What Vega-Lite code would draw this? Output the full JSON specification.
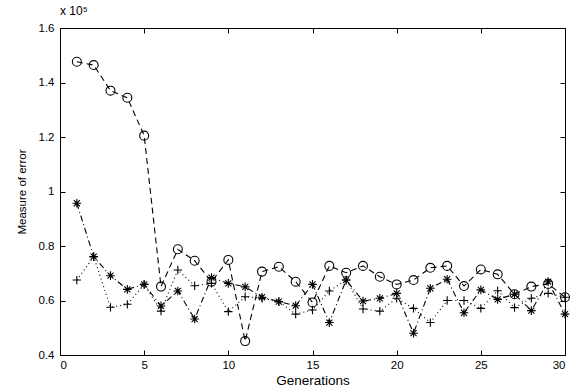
{
  "$schema": "https://vega.github.io/schema/vega-lite/v6.json",
  "autosize": {"type": "none"},
  "padding": {"left": 60, "top": 28, "right": 10, "bottom": 35},
  "width": 505,
  "height": 327,
  "background": "white",
  "config": {
    "view": {"stroke": "black", "strokeWidth": 1},
    "font": "Liberation Sans",
    "axis": {"grid": false, "domain": false, "tickColor": "black", "tickSize": -5, "labelColor": "black", "titleColor": "black", "labelFont": "Liberation Sans", "titleFont": "Liberation Sans", "titleFontWeight": "normal", "labelFontSize": 11.5, "titleFontSize": 11.5}
  },
  "title": {"text": "x 10⁵", "anchor": "start", "frame": "group", "fontSize": 12, "fontWeight": "normal", "font": "Liberation Sans", "offset": 4, "color": "black"},
  "datasets": {
    "raw": [
      {"gen":1,"circle":1.476,"star":0.957,"plus":0.675},
      {"gen":2,"circle":1.464,"star":0.761,"plus":0.761},
      {"gen":3,"circle":1.370,"star":0.691,"plus":0.575},
      {"gen":4,"circle":1.344,"star":0.641,"plus":0.586},
      {"gen":5,"circle":1.205,"star":0.659,"plus":0.659},
      {"gen":6,"circle":0.651,"star":0.580,"plus":0.561},
      {"gen":7,"circle":0.788,"star":0.635,"plus":0.712},
      {"gen":8,"circle":0.746,"star":0.532,"plus":0.654},
      {"gen":9,"circle":0.669,"star":0.684,"plus":0.663},
      {"gen":10,"circle":0.749,"star":0.663,"plus":0.559},
      {"gen":11,"circle":0.451,"star":0.650,"plus":0.614},
      {"gen":12,"circle":0.706,"star":0.612,"plus":0.608},
      {"gen":13,"circle":0.724,"star":0.596,"plus":0.596},
      {"gen":14,"circle":0.669,"star":0.581,"plus":0.550},
      {"gen":15,"circle":0.593,"star":0.659,"plus":0.565},
      {"gen":16,"circle":0.727,"star":0.519,"plus":0.635},
      {"gen":17,"circle":0.702,"star":0.675,"plus":0.675},
      {"gen":18,"circle":0.727,"star":0.598,"plus":0.569},
      {"gen":19,"circle":0.687,"star":0.608,"plus":0.561},
      {"gen":20,"circle":0.659,"star":0.626,"plus":0.608},
      {"gen":21,"circle":0.675,"star":0.480,"plus":0.571},
      {"gen":22,"circle":0.720,"star":0.645,"plus":0.519},
      {"gen":23,"circle":0.727,"star":0.678,"plus":0.600},
      {"gen":24,"circle":0.653,"star":0.555,"plus":0.600},
      {"gen":25,"circle":0.714,"star":0.639,"plus":0.571},
      {"gen":26,"circle":0.696,"star":0.604,"plus":0.636},
      {"gen":27,"circle":0.623,"star":0.623,"plus":0.574},
      {"gen":28,"circle":0.651,"star":0.563,"plus":0.608},
      {"gen":29,"circle":0.661,"star":0.669,"plus":0.626},
      {"gen":30,"circle":0.612,"star":0.550,"plus":0.612}
    ]
  },
  "data": {"name": "raw"},
  "transform": [{"fold": ["circle", "star", "plus"], "as": ["series", "value"]}],
  "layer": [
    {
      "encoding": {
        "x": {"field": "gen", "type": "quantitative", "scale": {"domain": [0, 30], "nice": false, "zero": false}, "axis": {"title": "Generations", "titleFontSize": 13.5, "values": [0,5,10,15,20,25,30], "labelPadding": 9, "titlePadding": 3}},
        "y": {"field": "value", "type": "quantitative", "scale": {"domain": [0.4, 1.6], "nice": false, "zero": false}, "axis": {"title": "Measure of error", "values": [0.4,0.6,0.8,1,1.2,1.4,1.6], "format": "~g", "labelPadding": 11, "titlePadding": 11}}
      },
      "layer": [
        {
          "mark": {"type": "line", "stroke": "black", "strokeWidth": 1.1},
          "encoding": {
            "detail": {"field": "series"},
            "strokeDash": {"field": "series", "type": "nominal", "scale": {"domain": ["circle", "star", "plus"], "range": [[6, 4], [6, 3, 1, 3], [1, 3]]}, "legend": null}
          }
        },
        {
          "mark": {"type": "point", "filled": false, "stroke": "black", "strokeWidth": 1.1, "opacity": 1},
          "encoding": {
            "shape": {"field": "series", "type": "nominal", "scale": {"domain": ["circle", "star", "plus"], "range": ["circle", "M-1,0L1,0M0,-1L0,1M-0.7,-0.7L0.7,0.7M-0.7,0.7L0.7,-0.7", "M-1,0L1,0M0,-1L0,1"]}, "legend": null},
            "size": {"field": "series", "type": "nominal", "scale": {"domain": ["circle", "star", "plus"], "range": [80, 70, 100]}, "legend": null}
          }
        }
      ]
    },
    {
      "mark": {"type": "rule", "opacity": 0},
      "encoding": {
        "x": {"field": "gen", "type": "quantitative", "scale": {"domain": [0, 30], "nice": false, "zero": false}, "axis": {"orient": "top", "labels": false, "title": null, "values": [0,5,10,15,20,25,30]}},
        "y": {"field": "value", "type": "quantitative", "scale": {"domain": [0.4, 1.6], "nice": false, "zero": false}, "axis": {"orient": "right", "labels": false, "title": null, "values": [0.4,0.6,0.8,1,1.2,1.4,1.6]}}
      }
    }
  ],
  "resolve": {"axis": {"x": "independent", "y": "independent"}}
}
